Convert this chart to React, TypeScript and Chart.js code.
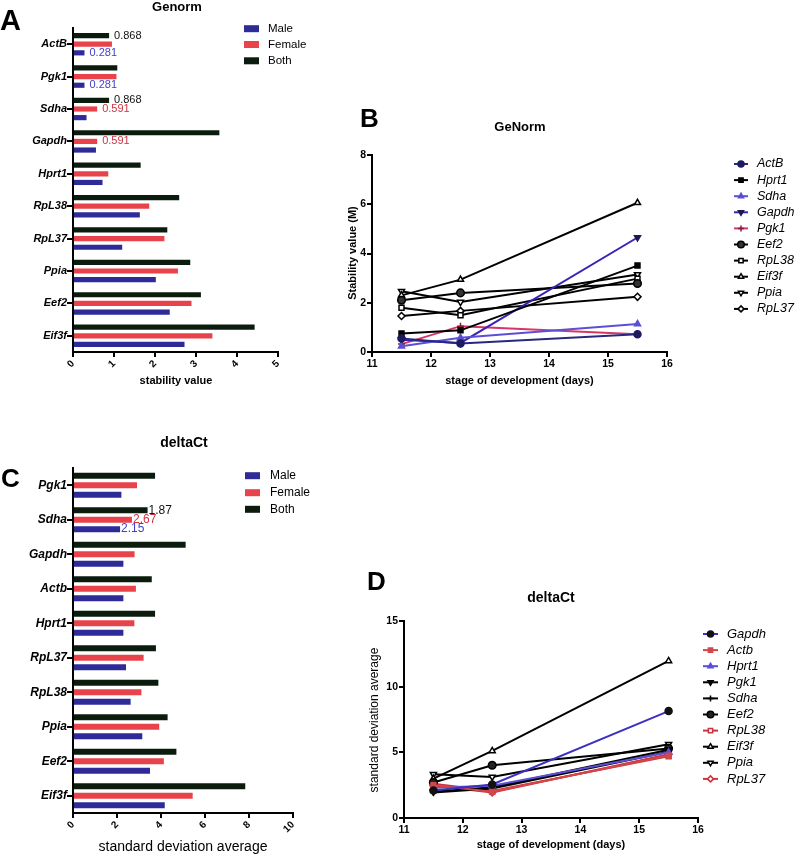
import React, { useEffect, useRef } from 'react';
import { Chart, registerables } from 'chart.js';
Chart.register(...registerables);

const FONT = '"Liberation Sans", Arial, Helvetica, sans-serif';
Chart.defaults.font.family = FONT;

// ---------- Panel A (Genorm, bars) ----------
const genesA = ['ActB', 'Pgk1', 'Sdha', 'Gapdh', 'Hprt1', 'RpL38', 'RpL37', 'Ppia', 'Eef2', 'Eif3f'];
const maleA = [0.28, 0.28, 0.33, 0.56, 0.72, 1.63, 1.2, 2.02, 2.36, 2.72];
const femaleA = [0.95, 1.06, 0.59, 0.59, 0.86, 1.86, 2.23, 2.56, 2.89, 3.4];
const bothA = [0.88, 1.08, 0.88, 3.57, 1.65, 2.59, 2.3, 2.86, 3.12, 4.43];
const labelsA = [
  { category: 'ActB', series: 'Both', text: '0.868' },
  { category: 'ActB', series: 'Male', text: '0.281' },
  { category: 'Pgk1', series: 'Male', text: '0.281' },
  { category: 'Sdha', series: 'Both', text: '0.868' },
  { category: 'Sdha', series: 'Female', text: '0.591' },
  { category: 'Gapdh', series: 'Female', text: '0.591' },
];

// ---------- Panel C (deltaCt, bars) ----------
const genesC = ['Pgk1', 'Sdha', 'Gapdh', 'Actb', 'Hprt1', 'RpL37', 'RpL38', 'Ppia', 'Eef2', 'Eif3f'];
const maleC = [2.2, 2.14, 2.29, 2.29, 2.29, 2.41, 2.62, 3.15, 3.5, 4.17];
const femaleC = [2.91, 2.68, 2.8, 2.86, 2.79, 3.21, 3.11, 3.92, 4.13, 5.44];
const bothC = [3.73, 3.39, 5.12, 3.58, 3.73, 3.77, 3.88, 4.3, 4.7, 7.83];
const labelsC = [
  { category: 'Sdha', series: 'Both', text: '1.87' },
  { category: 'Sdha', series: 'Female', text: '2.67' },
  { category: 'Sdha', series: 'Male', text: '2.15' },
];

// ---------- Panel B (GeNorm, lines) ----------
const daysB = [11.5, 12.5, 15.5];
const actbB = [0.55, 0.35, 0.72];
const hprt1B = [0.75, 0.88, 3.51];
const sdhaB = [0.23, 0.58, 1.14];
const gapdhB = [0.5, 0.37, 4.65];
const pgk1B = [0.32, 1.05, 0.72];
const eef2B = [2.1, 2.4, 2.78];
const rpl38B = [1.8, 1.49, 2.98];
const eif3fB = [2.3, 2.94, 6.06];
const ppiaB = [2.47, 2.03, 3.15];
const rpl37B = [1.46, 1.67, 2.24];

// ---------- Panel D (deltaCt, lines) ----------
const daysD = [11.5, 12.5, 15.5];
const gapdhD = [2.1, 2.55, 8.14];
const actbD = [2.5, 2.0, 4.75];
const hprt1D = [2.3, 2.45, 5.0];
const pgk1D = [2.0, 2.35, 5.2];
const sdhaD = [1.95, 2.25, 5.05];
const eef2D = [2.7, 4.02, 5.3];
const rpl38D = [2.6, 2.05, 4.7];
const eif3fD = [3.0, 5.11, 11.96];
const ppiaD = [3.33, 3.13, 5.62];
const rpl37D = [2.45, 1.94, 4.85];

const MALE = '#2e2b99';
const FEMALE = '#e8434b';
const BOTH = '#0b1c0e';
const LBL_BLUE = '#4141c9';
const LBL_RED = '#cc3344';
const labelColor: Record<string, string> = { Male: LBL_BLUE, Female: LBL_RED, Both: '#111' };

type Series = { name: string; vals: number[]; line: string; marker: string; fill: string; stroke: string; r?: number };

const seriesB: Series[] = [
  { name: 'ActB', vals: actbB, line: '#28287f', marker: 'circle', fill: '#1c1c5e', stroke: '#1c1c5e' },
  { name: 'Hprt1', vals: hprt1B, line: '#000', marker: 'rect', fill: '#000', stroke: '#000' },
  { name: 'Sdha', vals: sdhaB, line: '#5b4fd6', marker: 'triangle', fill: '#5b4fd6', stroke: '#5b4fd6' },
  { name: 'Gapdh', vals: gapdhB, line: '#3a22b8', marker: 'triangleDown', fill: '#1a1a50', stroke: '#1a1a50' },
  { name: 'Pgk1', vals: pgk1B, line: '#d9346a', marker: 'cross', fill: '#8a1a3a', stroke: '#8a1a3a' },
  { name: 'Eef2', vals: eef2B, line: '#000', marker: 'circle', fill: '#333', stroke: '#000', r: 3.8 },
  { name: 'RpL38', vals: rpl38B, line: '#000', marker: 'rect', fill: '#fff', stroke: '#000' },
  { name: 'Eif3f', vals: eif3fB, line: '#000', marker: 'triangle', fill: '#fff', stroke: '#000' },
  { name: 'Ppia', vals: ppiaB, line: '#000', marker: 'triangleDown', fill: '#fff', stroke: '#000' },
  { name: 'RpL37', vals: rpl37B, line: '#000', marker: 'rectRot', fill: '#fff', stroke: '#000' },
];

const seriesD: Series[] = [
  { name: 'Gapdh', vals: gapdhD, line: '#3d2fc0', marker: 'circle', fill: '#111', stroke: '#111' },
  { name: 'Actb', vals: actbD, line: '#d24848', marker: 'rect', fill: '#d24848', stroke: '#d24848' },
  { name: 'Hprt1', vals: hprt1D, line: '#5b4fd6', marker: 'triangle', fill: '#5b4fd6', stroke: '#5b4fd6' },
  { name: 'Pgk1', vals: pgk1D, line: '#000', marker: 'triangleDown', fill: '#000', stroke: '#000' },
  { name: 'Sdha', vals: sdhaD, line: '#000', marker: 'cross', fill: '#000', stroke: '#000' },
  { name: 'Eef2', vals: eef2D, line: '#000', marker: 'circle', fill: '#222', stroke: '#000', r: 3.8 },
  { name: 'RpL38', vals: rpl38D, line: '#cc3340', marker: 'rect', fill: '#fff', stroke: '#cc3340' },
  { name: 'Eif3f', vals: eif3fD, line: '#000', marker: 'triangle', fill: '#fff', stroke: '#000' },
  { name: 'Ppia', vals: ppiaD, line: '#000', marker: 'triangleDown', fill: '#fff', stroke: '#000' },
  { name: 'RpL37', vals: rpl37D, line: '#cc3340', marker: 'rectRot', fill: '#fff', stroke: '#cc3340' },
];

// ---------- helpers ----------
type TextItem = { text: string; x: number; y: number; font: string; color?: string; align?: CanvasTextAlign; baseline?: CanvasTextBaseline; rot?: number };

function textPlugin(items: TextItem[]) {
  return {
    id: 'texts',
    afterDraw(chart: any) {
      const ctx = chart.ctx as CanvasRenderingContext2D;
      items.forEach((t) => {
        ctx.save();
        ctx.font = t.font;
        ctx.fillStyle = t.color || '#000';
        ctx.textAlign = t.align || 'center';
        ctx.textBaseline = t.baseline || 'middle';
        ctx.translate(t.x, t.y);
        if (t.rot) ctx.rotate(t.rot);
        ctx.fillText(t.text, 0, 0);
        ctx.restore();
      });
    },
  };
}

function barLabelPlugin(specs: { category: string; series: string; text: string }[], font: string, gap: number) {
  return {
    id: 'barLabels',
    afterDatasetsDraw(chart: any) {
      const ctx = chart.ctx as CanvasRenderingContext2D;
      specs.forEach((s) => {
        const di = chart.data.datasets.findIndex((d: any) => d.label === s.series);
        const ci = chart.data.labels.indexOf(s.category);
        const el = chart.getDatasetMeta(di).data[ci];
        if (!el) return;
        ctx.save();
        ctx.font = font;
        ctx.fillStyle = labelColor[s.series];
        ctx.textAlign = 'left';
        ctx.textBaseline = 'middle';
        ctx.fillText(s.text, el.x + gap, el.y);
        ctx.restore();
      });
    },
  };
}

function barLegendPlugin(x: number, w: number, h: number, ys: number[], textX: number, font: string) {
  const items = [
    { label: 'Male', color: MALE },
    { label: 'Female', color: FEMALE },
    { label: 'Both', color: BOTH },
  ];
  return {
    id: 'barLegend',
    afterDraw(chart: any) {
      const ctx = chart.ctx as CanvasRenderingContext2D;
      items.forEach((it, i) => {
        ctx.save();
        ctx.fillStyle = it.color;
        ctx.fillRect(x, ys[i] - h / 2, w, h);
        ctx.font = font;
        ctx.fillStyle = '#000';
        ctx.textAlign = 'left';
        ctx.textBaseline = 'middle';
        ctx.fillText(it.label, textX, ys[i]);
        ctx.restore();
      });
    },
  };
}

function drawMarker(ctx: CanvasRenderingContext2D, style: string, x: number, y: number, r: number, fill: string, stroke: string) {
  ctx.save();
  ctx.beginPath();
  ctx.lineWidth = 1.5;
  ctx.strokeStyle = stroke;
  ctx.fillStyle = fill;
  const tri = (down: boolean) => {
    let a = down ? Math.PI : 0;
    for (let k = 0; k < 3; k++) {
      const px = x + Math.sin(a) * r;
      const py = y - Math.cos(a) * r;
      if (k === 0) ctx.moveTo(px, py);
      else ctx.lineTo(px, py);
      a += (2 * Math.PI) / 3;
    }
    ctx.closePath();
  };
  switch (style) {
    case 'circle':
      ctx.arc(x, y, r, 0, Math.PI * 2);
      break;
    case 'rect': {
      const s = r * Math.SQRT1_2;
      ctx.rect(x - s, y - s, 2 * s, 2 * s);
      break;
    }
    case 'rectRot':
      ctx.moveTo(x, y - r);
      ctx.lineTo(x + r, y);
      ctx.lineTo(x, y + r);
      ctx.lineTo(x - r, y);
      ctx.closePath();
      break;
    case 'triangle':
      tri(false);
      break;
    case 'triangleDown':
      tri(true);
      break;
    case 'cross':
      ctx.moveTo(x - r, y);
      ctx.lineTo(x + r, y);
      ctx.moveTo(x, y - r);
      ctx.lineTo(x, y + r);
      break;
  }
  if (style !== 'cross') ctx.fill();
  ctx.stroke();
  ctx.restore();
}

function lineLegendPlugin(series: Series[], x1: number, x2: number, textX: number, y0: number, step: number, font: string) {
  return {
    id: 'lineLegend',
    afterDraw(chart: any) {
      const ctx = chart.ctx as CanvasRenderingContext2D;
      series.forEach((s, i) => {
        const y = y0 + i * step;
        ctx.save();
        ctx.strokeStyle = s.line;
        ctx.lineWidth = 2;
        ctx.beginPath();
        ctx.moveTo(x1, y);
        ctx.lineTo(x2, y);
        ctx.stroke();
        ctx.restore();
        drawMarker(ctx, s.marker, (x1 + x2) / 2, y, (s.r || 3.5) - 0.5, s.fill, s.stroke);
        ctx.save();
        ctx.font = font;
        ctx.fillStyle = '#000';
        ctx.textAlign = 'left';
        ctx.textBaseline = 'middle';
        ctx.fillText(s.name, textX, y);
        ctx.restore();
      });
    },
  };
}

const gridStyle = (len: number) => ({
  display: true,
  drawOnChartArea: false,
  drawTicks: true,
  tickLength: len,
  tickWidth: 2,
  tickColor: '#000',
  lineWidth: 2,
  color: '#000',
  offset: false,
});
const borderStyle = { display: true, width: 2, color: '#000' };

const baseOptions = (padding: any) => ({
  responsive: false,
  animation: false as const,
  devicePixelRatio: 1,
  events: [] as any[],
  layout: { padding },
  plugins: { legend: { display: false }, tooltip: { enabled: false }, title: { display: false } },
});

function barConfig(
  genes: string[], male: number[], female: number[], both: number[],
  xMax: number, step: number, yWidth: number, padding: any, cp: number, bp: number,
  yFontSize: number, plugins: any[]
) {
  return {
    type: 'bar' as const,
    data: {
      labels: genes,
      datasets: [
        { label: 'Both', data: both, backgroundColor: BOTH, categoryPercentage: cp, barPercentage: bp },
        { label: 'Female', data: female, backgroundColor: FEMALE, categoryPercentage: cp, barPercentage: bp },
        { label: 'Male', data: male, backgroundColor: MALE, categoryPercentage: cp, barPercentage: bp },
      ],
    },
    options: {
      ...baseOptions(padding),
      indexAxis: 'y' as const,
      scales: {
        x: {
          type: 'linear' as const,
          min: 0,
          max: xMax,
          grid: gridStyle(5),
          border: borderStyle,
          ticks: { stepSize: step, minRotation: 45, maxRotation: 45, padding: 1, color: '#000', font: { size: 10, weight: 'bold' as const } },
          afterFit: (s: any) => { s.height = 40; },
        },
        y: {
          type: 'category' as const,
          offset: true,
          grid: gridStyle(6),
          border: borderStyle,
          ticks: { padding: 0, color: '#000', font: { size: yFontSize, weight: 'bold' as const, style: 'italic' as const } },
          afterFit: (s: any) => { s.width = yWidth; },
        },
      },
    },
    plugins,
  };
}

function lineConfig(series: Series[], days: number[], yMax: number, yStep: number, yWidth: number, padding: any, plugins: any[]) {
  return {
    type: 'line' as const,
    data: {
      datasets: series.map((s) => ({
        label: s.name,
        data: days.map((d, i) => ({ x: d, y: s.vals[i] })),
        borderColor: s.line,
        borderWidth: 2,
        pointStyle: s.marker === 'triangleDown' ? 'triangle' : s.marker,
        rotation: s.marker === 'triangleDown' ? 180 : 0,
        pointRadius: s.r || 3.5,
        pointBorderWidth: 1.5,
        pointBackgroundColor: s.fill,
        pointBorderColor: s.stroke,
        tension: 0,
        fill: false,
      })),
    },
    options: {
      ...baseOptions(padding),
      scales: {
        x: {
          type: 'linear' as const,
          min: 11,
          max: 16,
          grid: gridStyle(5),
          border: borderStyle,
          ticks: { stepSize: 1, padding: 1, maxRotation: 0, color: '#000', font: { size: 10.5, weight: 'bold' as const } },
          afterFit: (s: any) => { s.height = 30; },
        },
        y: {
          type: 'linear' as const,
          min: 0,
          max: yMax,
          grid: gridStyle(5),
          border: borderStyle,
          ticks: { stepSize: yStep, padding: 1, color: '#000', font: { size: 10.5, weight: 'bold' as const } },
          afterFit: (s: any) => { s.width = yWidth; },
        },
      },
    },
    plugins,
  };
}

export default function App() {
  const refA = useRef<HTMLCanvasElement>(null);
  const refB = useRef<HTMLCanvasElement>(null);
  const refC = useRef<HTMLCanvasElement>(null);
  const refD = useRef<HTMLCanvasElement>(null);

  useEffect(() => {
    const W = 796;
    const H = 855;
    const charts: Chart[] = [];

    // Panel A: chart area L73 T28 R278 B352
    charts.push(
      new Chart(
        refA.current!,
        barConfig(genesA, maleA, femaleA, bothA, 5, 1, 73,
          { left: 0, top: 28, right: W - 278, bottom: H - 352 - 40 }, 0.8, 0.6, 11,
          [
            barLabelPlugin(labelsA, `11px ${FONT}`, 5),
            barLegendPlugin(244, 15, 7, [28.7, 44.5, 60.8], 268, `11.5px ${FONT}`),
            textPlugin([
              { text: 'A', x: 0, y: 29.5, font: `bold 29px ${FONT}`, align: 'left', baseline: 'alphabetic' },
              { text: 'Genorm', x: 177, y: 7.5, font: `bold 13px ${FONT}` },
              { text: 'stability value', x: 176, y: 381, font: `bold 11px ${FONT}` },
            ]),
          ]) as any
      )
    );

    // Panel C: chart area L73 T468 R293 B813
    charts.push(
      new Chart(
        refC.current!,
        barConfig(genesC, maleC, femaleC, bothC, 10, 2, 73,
          { left: 0, top: 468, right: W - 293, bottom: H - 813 - 40 }, 0.82, 0.63, 12,
          [
            barLabelPlugin(labelsC, `12px ${FONT}`, 1),
            barLegendPlugin(245, 15, 7, [475.7, 492.7, 509.3], 270, `12px ${FONT}`),
            textPlugin([
              { text: 'C', x: 1, y: 486.5, font: `bold 26px ${FONT}`, align: 'left', baseline: 'alphabetic' },
              { text: 'deltaCt', x: 184, y: 443, font: `bold 14px ${FONT}` },
              { text: 'standard deviation average', x: 183, y: 847, font: `14px ${FONT}` },
            ]),
          ]) as any
      )
    );

    // Panel B: chart area L372 T155 R667 B352
    charts.push(
      new Chart(
        refB.current!,
        lineConfig(seriesB, daysB, 8, 2, 50,
          { left: 372 - 50, top: 155, right: W - 667, bottom: H - 352 - 30 },
          [
            lineLegendPlugin(seriesB, 734, 748, 757, 164, 16.1, `italic 12.5px ${FONT}`),
            textPlugin([
              { text: 'B', x: 360, y: 127, font: `bold 26px ${FONT}`, align: 'left', baseline: 'alphabetic' },
              { text: 'GeNorm', x: 520, y: 127, font: `bold 13px ${FONT}` },
              { text: 'stage of development (days)', x: 519.5, y: 381, font: `bold 11px ${FONT}` },
              { text: 'Stability value (M)', x: 353, y: 253, font: `bold 11px ${FONT}`, rot: -Math.PI / 2 },
            ]),
          ]) as any
      )
    );

    // Panel D: chart area L404 T621 R698 B818
    charts.push(
      new Chart(
        refD.current!,
        lineConfig(seriesD, daysD, 15, 5, 40,
          { left: 404 - 40, top: 621, right: W - 698, bottom: H - 818 - 30 },
          [
            lineLegendPlugin(seriesD, 703, 718, 727, 634, 16.1, `italic 13px ${FONT}`),
            textPlugin([
              { text: 'D', x: 367, y: 590, font: `bold 26px ${FONT}`, align: 'left', baseline: 'alphabetic' },
              { text: 'deltaCt', x: 551, y: 598, font: `bold 14px ${FONT}` },
              { text: 'stage of development (days)', x: 551, y: 845, font: `bold 11px ${FONT}` },
              { text: 'standard deviation average', x: 375, y: 720, font: `12px ${FONT}`, rot: -Math.PI / 2 },
            ]),
          ]) as any
      )
    );

    return () => charts.forEach((c) => c.destroy());
  }, []);

  const cs: React.CSSProperties = { position: 'absolute', left: 0, top: 0, width: 796, height: 855 };
  return (
    <div style={{ position: 'absolute', left: 0, top: 0, width: 796, height: 855, background: '#fff', overflow: 'hidden' }}>
      <canvas ref={refA} width={796} height={855} style={cs} />
      <canvas ref={refB} width={796} height={855} style={cs} />
      <canvas ref={refC} width={796} height={855} style={cs} />
      <canvas ref={refD} width={796} height={855} style={cs} />
    </div>
  );
}
